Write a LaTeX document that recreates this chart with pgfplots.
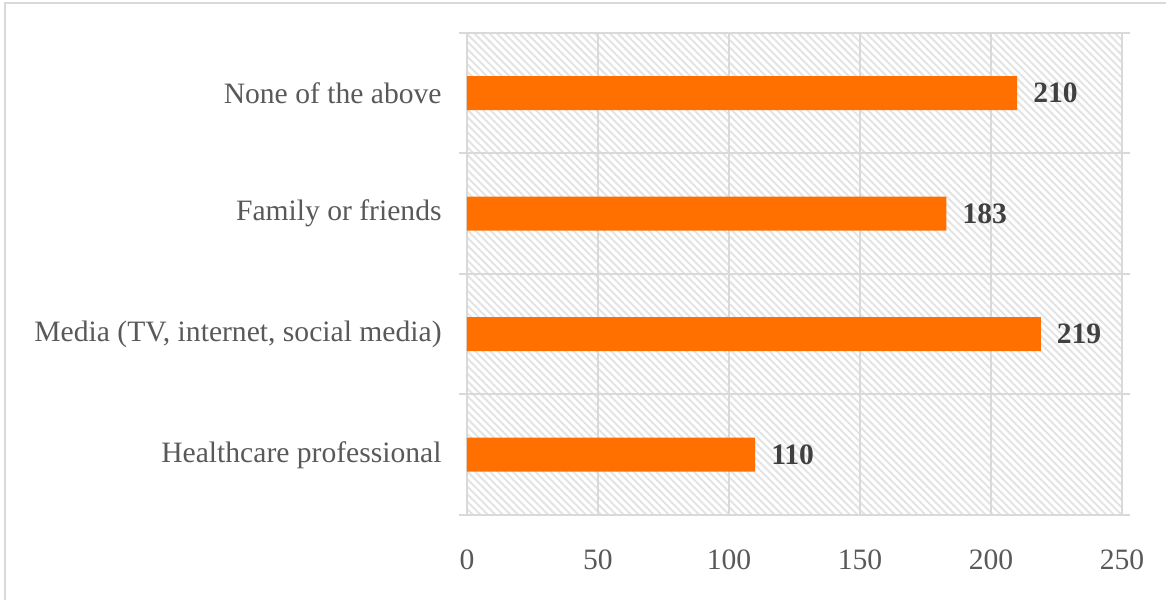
\documentclass[border=0pt]{standalone}
\usepackage{fontspec}
\setmainfont{Liberation Serif}
\usepackage{pgfplots}
\pgfplotsset{compat=1.18}
\usetikzlibrary{patterns.meta}
\definecolor{barc}{HTML}{FF7000}
\definecolor{txt}{HTML}{595959}
\definecolor{vtxt}{HTML}{404040}
\definecolor{gridc}{HTML}{D9D9D9}
\definecolor{hatch}{HTML}{E3E3E3}
\begin{document}
\begin{tikzpicture}
\begin{axis}[
  at={(0,0)}, anchor=south west,
  scale only axis,
  width=245.625pt, height=180.75pt,
  xbar, bar width=12.75pt,
  xmin=0, xmax=250,
  ymin=-0.5, ymax=3.5,
  xtick={0,50,100,150,200,250},
  ytick={-0.5,0.5,1.5,2.5,3.5},
  yticklabels={},
  extra y ticks={0,1,2,3},
  extra y tick labels={Healthcare professional,{Media (TV, internet, social media)},Family or friends,None of the above},
  extra y tick style={grid=none, major tick length=0pt, yticklabel style={xshift=-6pt}},
  xmajorgrids, ymajorgrids,
  grid style={gridc, line width=0.75pt},
  axis line style={gridc, line width=0.75pt},
  tick align=outside,
  x tick style={draw=none},
  y tick style={gridc, line width=0.75pt},
  major tick length=3pt,
  xticklabel style={yshift=-6.5pt},
  tick label style={font=\fontsize{11.1}{13}\selectfont, text=txt},
  /pgf/number format/assume math mode=true,
  axis background/.style={pattern={Lines[angle=-45,distance=2pt,line width=0.75pt]}, pattern color=hatch},
  nodes near coords,
  nodes near coords style={font=\fontsize{11.1}{13}\selectfont\bfseries, text=vtxt, xshift=2.5pt},
  clip=false,
]
\addplot[fill=barc, draw=none] coordinates {(110,0) (219,1) (183,2) (210,3)};
\end{axis}
\draw[gridc, line width=0.75pt] (-173.25pt,-40pt) -- (-173.25pt,192pt) -- (270pt,192pt);
\pgfresetboundingbox
\path[use as bounding box] (-175.125pt,-31.875pt) rectangle (262.125pt,193.125pt);
\end{tikzpicture}
\end{document}
